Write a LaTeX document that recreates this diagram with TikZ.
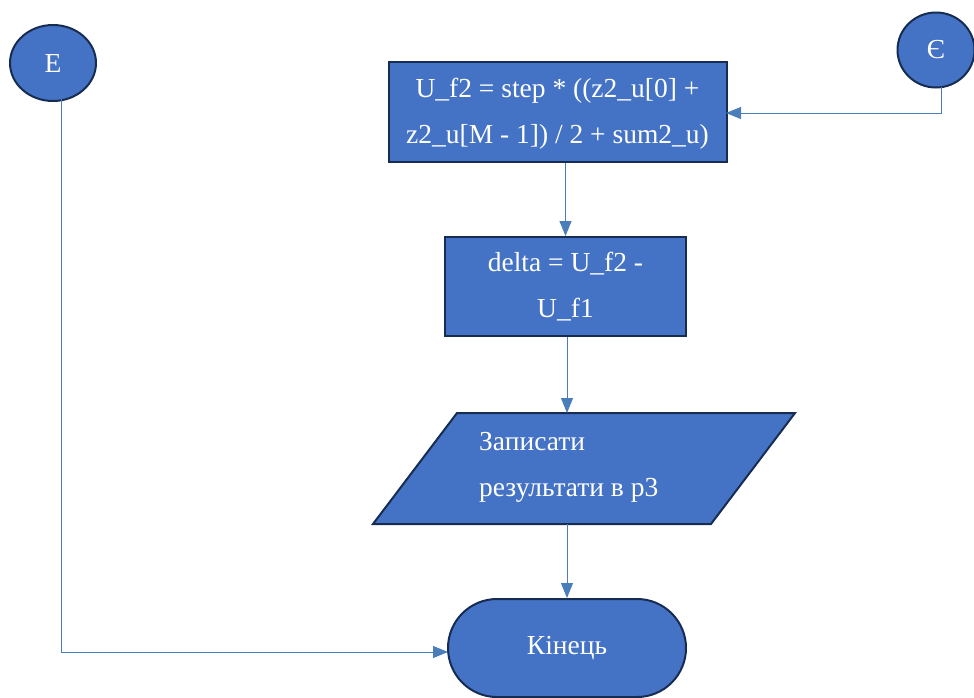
\documentclass[tikz,border=0pt]{standalone}
\usepackage{fontspec}
\setmainfont{Liberation Serif}
\usetikzlibrary{arrows.meta,shapes.geometric}
\definecolor{boxfill}{HTML}{4472C4}
\definecolor{boxline}{HTML}{172C51}
\definecolor{wire}{HTML}{4A7EBB}
\begin{document}
\begin{tikzpicture}[x=1pt,y=1pt,
  blockfont/.style={font=\fontsize{27.5}{46}\selectfont, text=white},
  shapebox/.style={draw=boxline, line width=2pt, fill=boxfill},
  procbox/.style={shapebox, rectangle, inner sep=0pt, align=center, blockfont},
  connector/.style={ellipse, shapebox, inner sep=0pt, blockfont},
  flow/.style={draw=wire, line width=1pt, -{Triangle[length=15pt,width=12pt]}}
]
\useasboundingbox (0,0) rectangle (974,-697);

% off-page connectors
\node[connector, minimum width=86pt, minimum height=76pt] (E) at (53,-63) {E};
\node[connector, minimum width=77pt, minimum height=75pt] (Ye) at (936,-50) {Є};

% computation blocks
\node[procbox, minimum width=338pt, minimum height=100pt] (uf2) at (557.5,-111.5) {};
\node[blockfont, align=center, inner sep=0pt] (uf2text) at (557.5,-114)
  {U\_f2 = step * ((z2\_u[0] +\\z2\_u[M - 1]) / 2 + sum2\_u)};
\node[procbox, minimum width=241pt, minimum height=99pt] (delta) at (565.5,-286.5)
  {delta = U\_f2 -\\U\_f1};

% output parallelogram
\draw[shapebox] (373,-524) -- (457,-413) -- (795,-413) -- (711,-524) -- cycle;
\node[blockfont, align=left, anchor=west, inner sep=0pt] (out) at (479,-467)
  {Записати\\результати в р3};
\coordinate (outtop) at (567,-413);
\coordinate (outbot) at (567,-524);

% terminal
\node[shapebox, rectangle, rounded corners=49pt, minimum width=238pt, minimum height=98pt,
  inner sep=0pt, blockfont] (end) at (567,-648) {Кінець};

% connectors
\coordinate (Eout) at (61,-99);
\coordinate (Yeout) at (941,-87);
\coordinate (uf2in) at (726,-113);
\coordinate (endin) at (448,-652);
\draw[flow] (Yeout) |- (uf2in);
\draw[flow] (uf2.south -| delta.north) -- (delta.north);
\draw[flow] (delta.south -| outtop) -- (outtop);
\draw[flow] (outbot) -- (end.north -| outbot);
\draw[flow] (Eout) |- (endin);
\end{tikzpicture}
\end{document}
